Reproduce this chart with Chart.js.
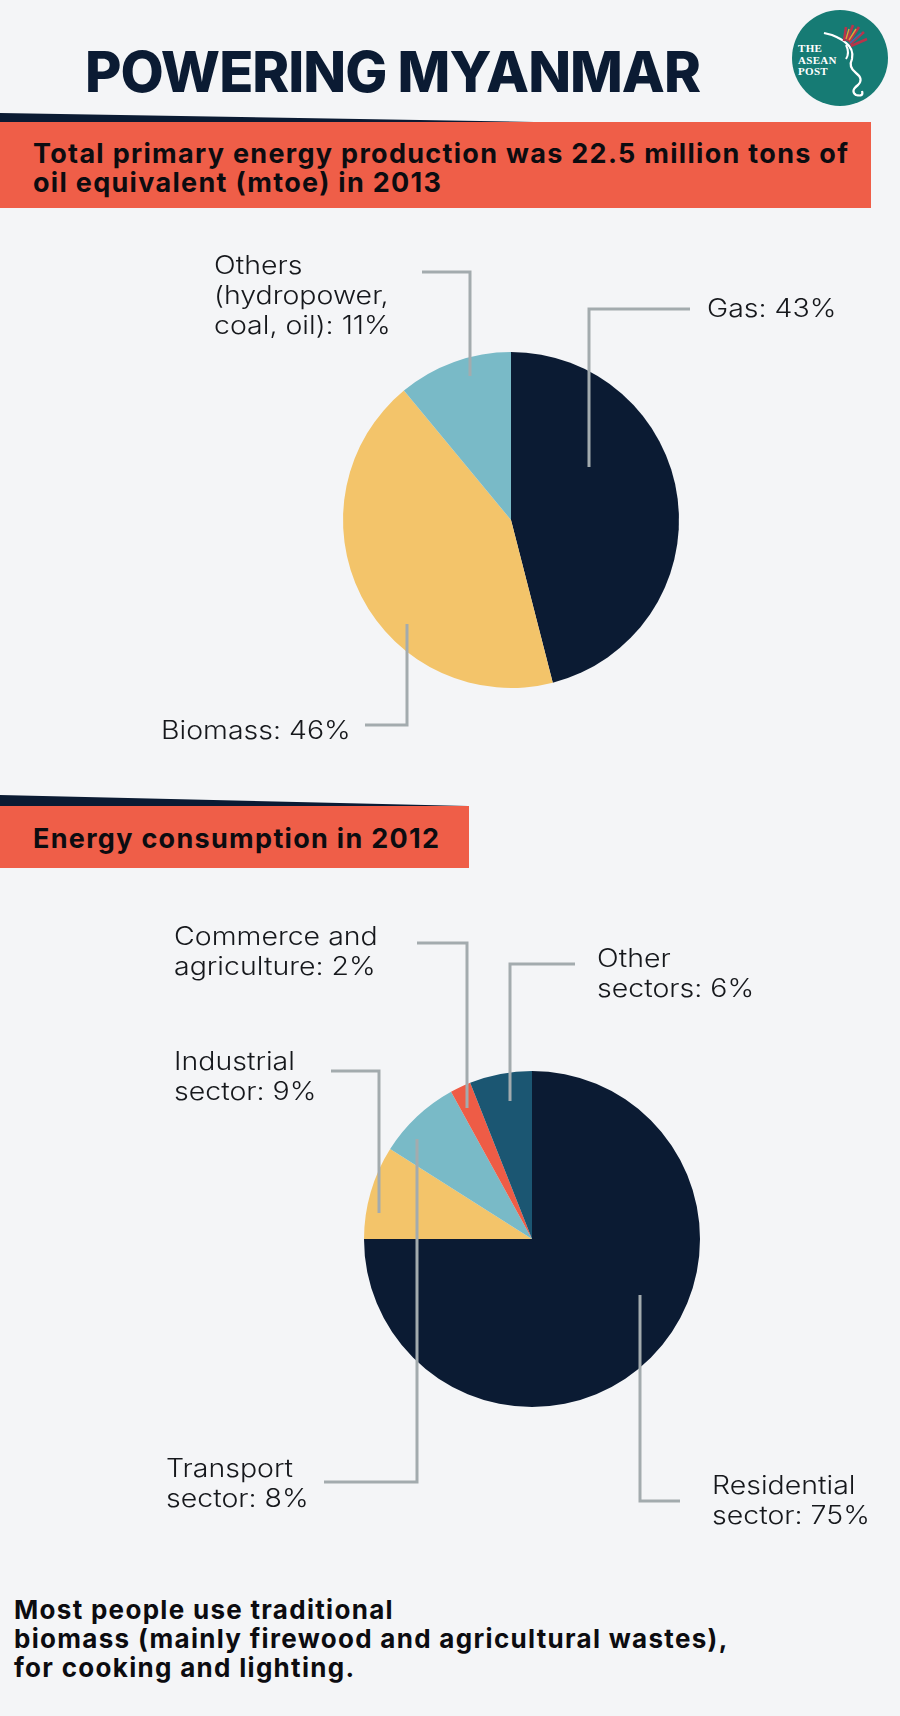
<!DOCTYPE html>
<html>
<head>
<meta charset="utf-8">
<script src="https://cdn.jsdelivr.net/npm/chart.js@4.4.1/dist/chart.umd.min.js"></script>
<style>
  body { margin: 0; background: #f4f5f7; }
  #page { position: relative; width: 900px; height: 1716px; overflow: hidden; background: #f4f5f7; font-family: Inter, "Noto Sans", sans-serif; }
  .txt { position: absolute; margin: 0; white-space: nowrap; }
  #title { left: 85px; top: 44px; font-size: 56px; line-height: 56px; font-weight: 800; color: #0b1b33; letter-spacing: -1px; }
  .banner { position: absolute; left: 0; background: #ef5e48; }
  .bannerText { font-size: 27px; line-height: 29px; font-weight: 700; color: #0c0c10; left: 33px; letter-spacing: 1.3px; }
  #note { left: 14px; top: 1595px; font-size: 26px; line-height: 29px; font-weight: 700; color: #0c0c10; letter-spacing: 1.3px; }
  #logo { position: absolute; left: 792px; top: 10px; width: 96px; height: 96px; border-radius: 50%; background: #167b74; }
  #logoText { position: absolute; left: 798px; top: 43px; font-family: "Liberation Serif", "DejaVu Serif", serif; font-weight: 700; font-size: 11px; line-height: 11.7px; color: #fff; letter-spacing: 0.3px; }
  canvas { position: absolute; left: 0; }
</style>
</head>
<body>
<div id="page">
  <div id="title" class="txt">POWERING MYANMAR</div>

  <div id="logo"></div>
  <svg style="position:absolute;left:780px;top:5px" width="120" height="115" viewBox="0 0 120 115">
    <path d="M44 28 L52 30 Q62 34 66 38 Q74 44 72 54 Q68 62 76 68 Q84 74 78 80 Q70 86 76 90 Q84 92 82 86" fill="none" stroke="#fff" stroke-width="2.2"/>
    <path d="M66 40 Q70 48 66 54" fill="none" stroke="#fff" stroke-width="2"/>
    <path d="M64 36 L66 22 M67 36 L73 20 M69 37 L79 22 M70 39 L84 27 M71 41 L87 34" stroke="#b8344a" stroke-width="2.6"/>
    <path d="M66 34 L69 24 M69 35 L76 24" stroke="#e0a03a" stroke-width="1.4"/>
    <path d="M70 38 L81 28" stroke="#3a6fb0" stroke-width="1.4"/>
  </svg>
  <div id="logoText" class="txt">THE<br>ASEAN<br>POST</div>

  <svg style="position:absolute;left:0;top:0" width="900" height="900">
    <polygon points="0,113 534,122 0,122" fill="#0b1b33"/>
    <polygon points="0,795 468,806 0,806" fill="#0b1b33"/>
  </svg>
  <div class="banner" style="top:122px;width:871px;height:86px"></div>
  <div class="txt bannerText" style="top:139px">Total primary energy production was 22.5 million tons of<br>oil equivalent (mtoe) in 2013</div>

  <div class="banner" style="top:806px;width:469px;height:62px"></div>
  <div class="txt bannerText" style="top:824px">Energy consumption in 2012</div>

  <canvas id="productionPie" width="900" height="560" style="top:210px"></canvas>
  <canvas id="consumptionPie" width="900" height="680" style="top:880px"></canvas>

  <div id="note" class="txt">Most people use traditional<br>biomass (mainly firewood and agricultural wastes),<br>for cooking and lighting.</div>
</div>

<script>
// 2013 primary energy production (slice sizes as drawn in the graphic)
var productionLabels = ["Gas", "Biomass", "Others (hydropower, coal, oil)"];
var productionValues = [46, 43, 11];
var productionColors = ["#0b1b33", "#f3c46a", "#79bac7"];
var productionCallouts = [["Gas: 43%"], ["Biomass: 46%"], ["Others", "(hydropower,", "coal, oil): 11%"]];

// 2012 energy consumption by sector
var consumptionLabels = ["Residential sector", "Industrial sector", "Transport sector", "Commerce and agriculture", "Other sectors"];
var consumptionValues = [75, 9, 8, 2, 6];
var consumptionColors = ["#0b1b33", "#f3c46a", "#79bac7", "#ee5c46", "#1b5672"];
var consumptionCallouts = [["Residential", "sector: 75%"], ["Industrial", "sector: 9%"], ["Transport", "sector: 8%"], ["Commerce and", "agriculture: 2%"], ["Other", "sectors: 6%"]];

// leader lines and text positions, relative to the pie centre
var productionLayout = [
    { line: [[78, -53], [78, -211], [179, -211]], text: [196, -203] },
    { line: [[-104, 104], [-104, 205], [-146, 205]], text: [-350, 219] },
    { line: [[-41, -144], [-41, -248], [-89, -248]], text: [-297, -246] }
];
var consumptionLayout = [
    { line: [[108, 56], [108, 262], [148, 262]], text: [180, 255] },
    { line: [[-153, -26], [-153, -168], [-201, -168]], text: [-358, -169] },
    { line: [[-115, -100], [-115, 243], [-208, 243]], text: [-366, 238] },
    { line: [[-65, -131], [-65, -296], [-115, -296]], text: [-358, -294] },
    { line: [[-22, -138], [-22, -275], [43, -275]], text: [65, -272] }
];

var calloutPlugin = {
    id: "callouts",
    afterDraw: function (chart, args, opts) {
        var arc = chart.getDatasetMeta(0).data[0];
        var cx = arc.x, cy = arc.y;
        var ctx = chart.ctx;
        ctx.save();
        ctx.strokeStyle = "#a3abae";
        ctx.lineWidth = 3;
        ctx.lineJoin = "miter";
        opts.layout.forEach(function (item, i) {
            ctx.beginPath();
            item.line.forEach(function (p, j) {
                if (j === 0) ctx.moveTo(cx + p[0], cy + p[1]);
                else ctx.lineTo(cx + p[0], cy + p[1]);
            });
            ctx.stroke();

            ctx.fillStyle = "#16181c";
            ctx.font = "300 25px Inter, 'Noto Sans', sans-serif";
            ctx.textBaseline = "alphabetic";
            ctx.textAlign = "left";
            opts.texts[i].forEach(function (line, k) {
                ctx.save();
                ctx.translate(cx + item.text[0], cy + item.text[1] + k * 30);
                ctx.scale(1.14, 1);
                ctx.fillText(line, 0, 0);
                ctx.restore();
            });
        });
        ctx.restore();
    }
};

function drawPie(canvas, labels, values, colors, padding, texts, layout) {
    return new Chart(canvas, {
        type: "pie",
        data: {
            labels: labels,
            datasets: [{
                data: values,
                backgroundColor: colors,
                borderWidth: 0
            }]
        },
        options: {
            responsive: false,
            animation: false,
            events: [],
            layout: { padding: padding },
            plugins: {
                legend: { display: false },
                tooltip: { enabled: false },
                callouts: { texts: texts, layout: layout }
            }
        },
        plugins: [calloutPlugin]
    });
}

drawPie(document.getElementById("productionPie"), productionLabels, productionValues, productionColors,
    { left: 343, right: 221, top: 142, bottom: 82 }, productionCallouts, productionLayout);
drawPie(document.getElementById("consumptionPie"), consumptionLabels, consumptionValues, consumptionColors,
    { left: 364, right: 200, top: 191, bottom: 153 }, consumptionCallouts, consumptionLayout);
</script>
</body>
</html>
